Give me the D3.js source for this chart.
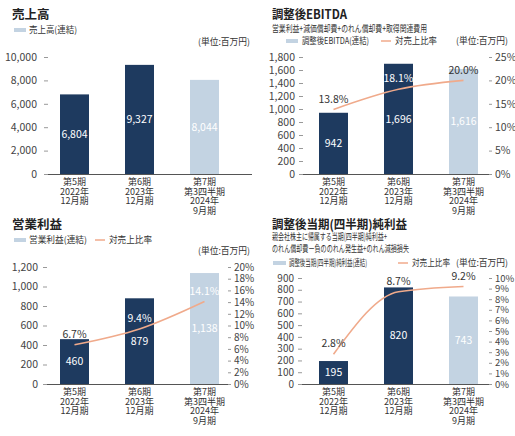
<!DOCTYPE html>
<html><head><meta charset="utf-8">
<script src="https://cdn.jsdelivr.net/npm/d3@7/dist/d3.min.js"></script>
<style>body{margin:0;background:#fff}svg{display:block}</style>
</head><body>
<svg id="c" width="515" height="436"></svg>
<script>
// ---------- data ----------
const categories = [["第5期","2022年","12月期"],["第6期","2023年","12月期"],["第7期","第3四半期","2024年","9月期"]];
const barKinds = ["actual","actual","partial"];
const salesValues = [6804, 9327, 8044];
const ebitdaValues = [942, 1696, 1616];
const ebitdaRatio = [13.8, 18.1, 20.0];
const opValues = [460, 879, 1138];
const opRatio = [6.7, 9.4, 14.1];
const netValues = [195, 820, 743];
const netRatio = [2.8, 8.7, 9.2];
const salesTicks = [0, 2000, 4000, 6000, 8000, 10000];
const ebitdaTicks = [0, 200, 400, 600, 800, 1000, 1200, 1400, 1600, 1800];
const ebitdaPctTicks = [0, 5, 10, 15, 20, 25];
const opTicks = [0, 200, 400, 600, 800, 1000, 1200];
const opPctTicks = [0, 2, 4, 6, 8, 10, 12, 14, 16, 18, 20];
const netTicks = [0, 100, 200, 300, 400, 500, 600, 700, 800, 900];
const netPctTicks = [0, 1, 2, 3, 4, 5, 6, 7, 8, 9, 10];

// ---------- style ----------
const NAVY = "#1e3a5f", LIGHT = "#c3d3e2", LINE = "#f0aa8b", TXT = "#333", TICK = "#444";
const NUMFONT = "'Liberation Sans Narrow','Arial Narrow','Noto Sans CJK JP',sans-serif";
const JPFONT = "'Noto Sans CJK JP','Noto Sans',sans-serif";

const svg = d3.select("#c");

function txt(g, x, y, s, o = {}) {
  const t = g.append("text").attr("x", x).attr("y", y).attr("dy", "0.35em")
    .attr("font-family", o.font || JPFONT).attr("font-size", o.size || 9)
    .attr("font-weight", o.weight || 400).attr("fill", o.fill || TXT)
    .attr("text-anchor", o.anchor || "start").text(s);
  if (o.len) t.attr("textLength", o.len).attr("lengthAdjust", "spacingAndGlyphs");
  return t;
}

function panel(cfg) {
  const g = svg.append("g");
  const x = d3.scalePoint().domain(d3.range(cfg.values.length)).range(cfg.centers);
  const y = d3.scaleLinear().domain([0, d3.max(cfg.ticks)]).range([cfg.base, cfg.top]);
  const bw = 29;

  txt(g, cfg.tx, cfg.titleY, cfg.title, {size: 12.5, weight: 700, fill: "#222", len: cfg.titleLen});
  (cfg.subs || []).forEach(s => txt(g, cfg.tx, s.y, s.t, {size: 9.5, len: s.len}));
  const L = cfg.legend;
  g.append("rect").attr("x", L.sx).attr("y", L.y - 2).attr("width", L.sw).attr("height", 4).attr("fill", LIGHT);
  txt(g, L.tx, L.y, L.text, {size: 9, len: L.len});
  if (L.lx) {
    g.append("line").attr("x1", L.lx).attr("x2", L.lx + 10).attr("y1", L.y).attr("y2", L.y)
      .attr("stroke", LINE).attr("stroke-width", 1.5);
    txt(g, L.lx + 14, L.y, "対売上比率", {size: 9, len: L.rlen});
  }
  txt(g, cfg.unitX, cfg.unitY, "(単位:百万円)", {size: 9, anchor: "end", len: 52});

  const la = g.append("g").attr("transform", `translate(${cfg.ax0},0)`)
    .call(d3.axisLeft(y).tickValues(cfg.ticks).tickSize(4).tickPadding(cfg.pad || 4).tickFormat(d3.format(",")));
  la.select(".domain").remove();
  la.selectAll("line").attr("stroke", "#999");
  la.selectAll("text").attr("font-family", NUMFONT).attr("font-size", cfg.lfs || 10.5).attr("fill", TICK);

  g.selectAll("rect.bar").data(cfg.values).join("rect").attr("class", "bar")
    .attr("x", (d, i) => x(i) - bw / 2).attr("width", bw)
    .attr("y", d => y(d)).attr("height", d => cfg.base - y(d))
    .attr("fill", (d, i) => barKinds[i] === "actual" ? NAVY : LIGHT);
  cfg.values.forEach((v, i) => {
    txt(g, x(i), (y(v) + cfg.base) / 2, d3.format(",")(v), {font: NUMFONT, size: 10.5, anchor: "middle", fill: "#fff"});
  });

  g.append("line").attr("x1", cfg.ax0).attr("x2", cfg.ax1).attr("y1", cfg.base + 0.5).attr("y2", cfg.base + 0.5)
    .attr("stroke", "#555").attr("stroke-width", 1);

  categories.forEach((lines, i) => {
    const t = g.append("text").attr("font-family", NUMFONT).attr("font-size", 9)
      .attr("fill", TXT).attr("text-anchor", "middle");
    lines.forEach((s, j) => t.append("tspan").attr("x", x(i)).attr("y", cfg.base + 8 + j * 9.6)
      .attr("dy", "0.35em").text(s));
  });

  if (cfg.ratio) {
    const yr = d3.scaleLinear().domain([0, d3.max(cfg.pctTicks)]).range([cfg.base, cfg.top]);
    const ra = g.append("g").attr("transform", `translate(${cfg.ax1},0)`)
      .call(d3.axisRight(yr).tickValues(cfg.pctTicks).tickSize(3).tickPadding(3).tickFormat(d => d + "%"));
    ra.select(".domain").remove();
    ra.selectAll("line").attr("stroke", "#999");
    ra.selectAll("text").attr("font-family", NUMFONT).attr("font-size", cfg.rfs || 10.5).attr("fill", TICK);

    const line = d3.line().x((d, i) => x(i)).y(d => yr(d)).curve(d3.curveMonotoneX);
    g.append("path").datum(cfg.ratio).attr("d", line).attr("fill", "none")
      .attr("stroke", LINE).attr("stroke-width", 1.6);
    cfg.ratio.forEach((r, i) => {
      const ly = yr(r) - 10.5;
      const inside = ly > y(cfg.values[i]) + 4;
      txt(g, x(i), ly, r.toFixed(1) + "%", {font: NUMFONT, size: 10.5, anchor: "middle", fill: inside ? "#fff" : TXT});
    });
  }
}

panel({
  title: "売上高", tx: 12, titleY: 15, values: salesValues, ticks: salesTicks,
  centers: [74.5, 204.5], top: 57, base: 174, ax0: 48, ax1: 252, pad: 7,
  legend: {y: 30, sx: 14, sw: 12, tx: 29, text: "売上高(連結)", len: 48},
  unitX: 250, unitY: 42
});
panel({
  title: "調整後EBITDA", tx: 272, titleY: 15, values: ebitdaValues, ticks: ebitdaTicks,
  ratio: ebitdaRatio, pctTicks: ebitdaPctTicks, titleLen: 75, lfs: 10.5,
  subs: [{y: 29, t: "営業利益+減価償却費+のれん償却費+取得関連費用", len: 155}],
  centers: [333.5, 463.5], top: 57, base: 174, ax0: 303, ax1: 489, pad: 4,
  legend: {y: 41, sx: 286, sw: 12, tx: 302, text: "調整後EBITDA(連結)", len: 67, lx: 381, rlen: 42},
  unitX: 508, unitY: 41
});
panel({
  title: "営業利益", tx: 12, titleY: 225, values: opValues, ticks: opTicks,
  ratio: opRatio, pctTicks: opPctTicks, rfs: 10,
  centers: [74.5, 204.5], top: 267, base: 384, ax0: 47, ax1: 228, pad: 5,
  legend: {y: 240, sx: 14, sw: 12, tx: 29, text: "営業利益(連結)", len: 58, lx: 95, rlen: 43},
  unitX: 250, unitY: 251
});
panel({
  title: "調整後当期(四半期)純利益", tx: 272, titleY: 225, values: netValues, ticks: netTicks,
  ratio: netRatio, pctTicks: netPctTicks, titleLen: 135, lfs: 10, rfs: 9.5,
  subs: [{y: 237, t: "親会社株主に帰属する当期(四半期)純利益+", len: 115},
         {y: 249, t: "のれん償却費ー負ののれん発生益+のれん減損損失", len: 137}],
  centers: [333.5, 463.5], top: 278, base: 384, ax0: 302, ax1: 489, pad: 4,
  legend: {y: 263, sx: 273, sw: 13, tx: 289, text: "調整後当期(四半期)純利益(連結)", len: 78, lx: 398, rlen: 38},
  unitX: 508, unitY: 263
});
</script>
</body></html>
